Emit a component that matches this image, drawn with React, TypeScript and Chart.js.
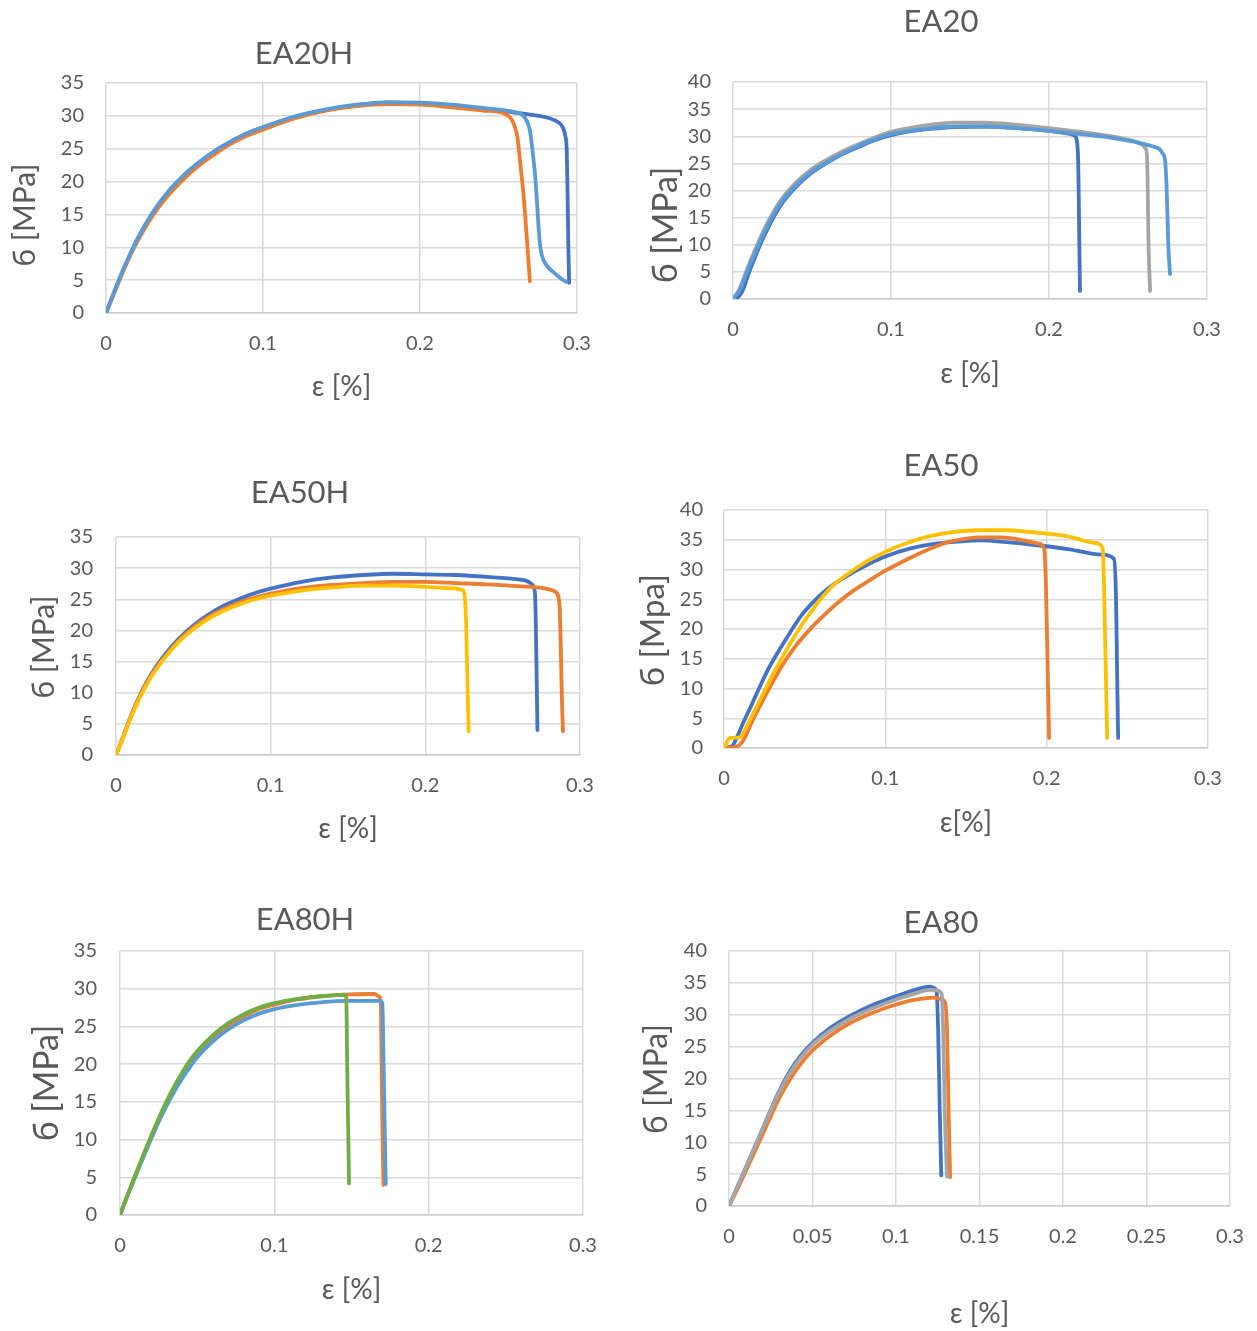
import React, { useEffect, useRef } from "react";
import { Chart, registerables } from "chart.js";

Chart.register(...registerables);

const FONT = "Lato, 'DejaVu Sans', 'Noto Sans', sans-serif";
Chart.defaults.font.family = FONT;

// ---------------- tick values ----------------
const xTicksTenth = [0, 0.1, 0.2, 0.3];
const xTicksTwentieth = [0, 0.05, 0.1, 0.15, 0.2, 0.25, 0.3];
const yTicks35 = [0, 5, 10, 15, 20, 25, 30, 35];
const yTicks40 = [0, 5, 10, 15, 20, 25, 30, 35, 40];

// ---------------- EA20H ----------------
const ea20hBlueStrain = [0, 0.005, 0.01, 0.015, 0.02, 0.03, 0.04, 0.05, 0.06, 0.07, 0.08, 0.09, 0.1, 0.12, 0.14, 0.16, 0.18, 0.2, 0.22, 0.24, 0.26, 0.27, 0.28, 0.286, 0.29, 0.2925, 0.2935, 0.294, 0.2945, 0.295];
const ea20hBlueStress = [0, 3.0, 6.0, 8.7, 11.2, 15.3, 18.5, 21.0, 23.0, 24.7, 26.1, 27.3, 28.2, 29.8, 30.9, 31.6, 32.0, 31.9, 31.6, 31.1, 30.5, 30.2, 29.8, 29.3, 28.6, 27.0, 24.5, 18.0, 10.0, 4.6];
const ea20hOrangeStrain = [0, 0.005, 0.01, 0.015, 0.02, 0.03, 0.04, 0.05, 0.06, 0.07, 0.08, 0.09, 0.1, 0.12, 0.14, 0.16, 0.18, 0.2, 0.22, 0.24, 0.25, 0.255, 0.258, 0.26, 0.262, 0.264, 0.266, 0.268, 0.27];
const ea20hOrangeStress = [0, 2.9, 5.8, 8.5, 10.9, 14.9, 18.0, 20.5, 22.6, 24.3, 25.8, 27.0, 27.9, 29.6, 30.8, 31.5, 31.8, 31.7, 31.3, 30.8, 30.6, 30.2, 29.6, 28.6, 26.8, 22.5, 17.8, 11.5, 4.8];
const ea20hLightStrain = [0, 0.005, 0.01, 0.015, 0.02, 0.03, 0.04, 0.05, 0.06, 0.07, 0.08, 0.09, 0.1, 0.12, 0.14, 0.16, 0.18, 0.2, 0.22, 0.24, 0.26, 0.265, 0.268, 0.27, 0.272, 0.2737, 0.275, 0.276, 0.277, 0.2786, 0.2822, 0.286, 0.2895, 0.2935];
const ea20hLightStress = [0, 3.1, 6.1, 8.8, 11.3, 15.4, 18.6, 21.1, 23.1, 24.8, 26.2, 27.4, 28.3, 29.9, 31.0, 31.7, 32.1, 32.0, 31.7, 31.2, 30.6, 30.2, 29.2, 27.8, 24.0, 19.8, 15.0, 11.5, 9.5, 8.1, 6.8, 6.0, 5.3, 4.7];

// ---------------- EA20 ----------------
const ea20BlueStrain = [0, 0.003, 0.006, 0.01, 0.02, 0.03, 0.04, 0.05, 0.06, 0.07, 0.08, 0.09, 0.1, 0.12, 0.14, 0.16, 0.18, 0.2, 0.21, 0.2158, 0.2175, 0.2185, 0.219, 0.2196];
const ea20BlueStress = [0, 0.3, 1.5, 4.8, 11.8, 17.2, 20.7, 23.3, 25.2, 26.8, 28.1, 29.3, 30.2, 31.2, 31.7, 31.8, 31.5, 31.0, 30.6, 30.2, 29.3, 25.0, 15.0, 1.5];
const ea20GrayStrain = [0, 0.004, 0.01, 0.02, 0.03, 0.04, 0.05, 0.06, 0.07, 0.08, 0.09, 0.1, 0.12, 0.14, 0.16, 0.18, 0.2, 0.22, 0.24, 0.25, 0.255, 0.258, 0.261, 0.262, 0.2625, 0.263, 0.264];
const ea20GrayStress = [0, 1.8, 6.3, 13.0, 18.1, 21.5, 24.0, 25.8, 27.3, 28.6, 29.8, 30.8, 31.9, 32.5, 32.5, 32.1, 31.5, 30.8, 30.0, 29.4, 29.0, 28.6, 27.8, 26.5, 20.0, 10.0, 1.5];
const ea20LightStrain = [0, 0.004, 0.01, 0.02, 0.03, 0.04, 0.05, 0.06, 0.07, 0.08, 0.09, 0.1, 0.12, 0.14, 0.16, 0.18, 0.2, 0.22, 0.24, 0.25, 0.26, 0.266, 0.27, 0.272, 0.2735, 0.2745, 0.2755, 0.2766];
const ea20LightStress = [0, 1.5, 5.8, 12.4, 17.6, 21.0, 23.5, 25.3, 26.9, 28.3, 29.5, 30.4, 31.3, 31.8, 31.8, 31.5, 31.0, 30.4, 29.7, 29.2, 28.6, 28.1, 27.6, 26.8, 25.5, 20.0, 10.0, 4.6];

// ---------------- EA50H ----------------
const ea50hBlueStrain = [0, 0.005, 0.01, 0.02, 0.03, 0.04, 0.05, 0.06, 0.07, 0.08, 0.09, 0.1, 0.12, 0.14, 0.16, 0.18, 0.2, 0.22, 0.24, 0.26, 0.265, 0.268, 0.27, 0.271, 0.2715, 0.272, 0.2725];
const ea50hBlueStress = [0, 3.2, 6.5, 11.8, 15.6, 18.5, 20.8, 22.6, 24.0, 25.1, 26.0, 26.7, 27.8, 28.5, 28.9, 29.1, 29.0, 28.9, 28.6, 28.2, 28.0, 27.6, 27.0, 25.5, 20.0, 12.0, 4.0];
const ea50hOrangeStrain = [0, 0.005, 0.01, 0.02, 0.03, 0.04, 0.05, 0.06, 0.07, 0.08, 0.09, 0.1, 0.12, 0.14, 0.16, 0.18, 0.2, 0.22, 0.24, 0.26, 0.28, 0.284, 0.286, 0.287, 0.2877, 0.2883, 0.289];
const ea50hOrangeStress = [0, 3.1, 6.4, 11.6, 15.3, 18.2, 20.5, 22.2, 23.5, 24.5, 25.3, 25.9, 26.8, 27.3, 27.6, 27.8, 27.8, 27.6, 27.4, 27.1, 26.6, 26.2, 25.4, 23.0, 16.0, 9.0, 3.8];
const ea50hYellowStrain = [0, 0.005, 0.01, 0.02, 0.03, 0.04, 0.05, 0.06, 0.07, 0.08, 0.09, 0.1, 0.12, 0.14, 0.16, 0.18, 0.2, 0.215, 0.224, 0.2255, 0.2265, 0.2272, 0.228];
const ea50hYellowStress = [0, 3.0, 6.3, 11.4, 15.1, 18.0, 20.2, 21.9, 23.2, 24.2, 25.0, 25.6, 26.4, 26.9, 27.2, 27.2, 27.0, 26.8, 26.5, 25.5, 20.0, 12.0, 3.8];

// ---------------- EA50 ----------------
const ea50BlueStrain = [0, 0.005, 0.008, 0.012, 0.016, 0.02, 0.0283, 0.035, 0.0407, 0.048, 0.0556, 0.0605, 0.068, 0.08, 0.0903, 0.1, 0.115, 0.13, 0.145, 0.16, 0.175, 0.19, 0.214, 0.234, 0.2417, 0.243, 0.2437, 0.2443];
const ea50BlueStress = [0, 0.3, 1.8, 4.3, 6.6, 9.0, 13.7, 16.8, 19.3, 22.3, 24.6, 25.9, 27.5, 29.5, 31.0, 32.2, 33.5, 34.3, 34.7, 34.9, 34.6, 34.2, 33.4, 32.5, 31.8, 25.0, 12.0, 1.7];
const ea50YellowStrain = [0, 0.0037, 0.0099, 0.0125, 0.0161, 0.0233, 0.03, 0.0357, 0.042, 0.048, 0.054, 0.0605, 0.068, 0.078, 0.09, 0.1002, 0.113, 0.1275, 0.142, 0.1573, 0.175, 0.1896, 0.2144, 0.229, 0.2347, 0.2355, 0.2365, 0.2375];
const ea50YellowStress = [0, 1.7, 1.8, 2.8, 4.7, 8.6, 12.2, 15.0, 18.0, 20.6, 22.9, 25.2, 27.4, 29.5, 31.6, 33.0, 34.4, 35.6, 36.3, 36.6, 36.6, 36.3, 35.5, 34.5, 33.6, 28.0, 15.0, 1.7];
const ea50OrangeStrain = [0, 0.004, 0.0084, 0.0122, 0.0175, 0.0233, 0.03, 0.0357, 0.044, 0.0531, 0.062, 0.0705, 0.08, 0.0903, 0.1, 0.115, 0.127, 0.1402, 0.15, 0.16, 0.17, 0.1797, 0.1945, 0.1983, 0.1995, 0.2005, 0.2015];
const ea50OrangeStress = [0, 0.1, 0.3, 1.4, 4.5, 7.6, 11.0, 13.7, 17.0, 19.9, 22.3, 24.4, 26.4, 28.2, 29.8, 31.9, 33.4, 34.7, 35.2, 35.4, 35.4, 35.2, 34.4, 33.6, 28.0, 15.0, 1.7];

// ---------------- EA80H ----------------
const ea80hGreenStrain = [0, 0.005, 0.01, 0.015, 0.02, 0.025, 0.03, 0.035, 0.04, 0.045, 0.05, 0.06, 0.07, 0.08, 0.09, 0.1, 0.11, 0.12, 0.13, 0.14, 0.1454, 0.1466, 0.1472, 0.1478, 0.1484];
const ea80hGreenStress = [0, 2.7, 5.3, 7.9, 10.4, 12.8, 15.0, 17.0, 18.8, 20.4, 21.7, 23.8, 25.4, 26.6, 27.5, 28.1, 28.5, 28.8, 29.0, 29.15, 29.2, 28.8, 20.0, 12.0, 4.2];
const ea80hOrangeStrain = [0, 0.005, 0.01, 0.015, 0.02, 0.025, 0.03, 0.035, 0.04, 0.045, 0.05, 0.06, 0.07, 0.08, 0.09, 0.1, 0.11, 0.12, 0.13, 0.14, 0.15, 0.16, 0.165, 0.1675, 0.169, 0.1695, 0.17, 0.1707];
const ea80hOrangeStress = [0, 2.7, 5.3, 7.8, 10.3, 12.6, 14.8, 16.8, 18.5, 20.1, 21.4, 23.5, 25.1, 26.3, 27.3, 27.9, 28.4, 28.7, 29.0, 29.15, 29.25, 29.3, 29.3, 29.0, 28.4, 20.0, 12.0, 4.0];
const ea80hLightStrain = [0, 0.005, 0.01, 0.015, 0.02, 0.025, 0.03, 0.035, 0.04, 0.045, 0.05, 0.06, 0.07, 0.08, 0.09, 0.1, 0.11, 0.12, 0.13, 0.14, 0.15, 0.16, 0.1677, 0.17, 0.1708, 0.1715, 0.1722];
const ea80hLightStress = [0, 2.6, 5.1, 7.6, 10.0, 12.3, 14.4, 16.3, 18.0, 19.5, 20.9, 23.0, 24.6, 25.8, 26.7, 27.3, 27.7, 28.0, 28.2, 28.35, 28.4, 28.4, 28.4, 28.1, 20.0, 12.0, 4.1];

// ---------------- EA80 ----------------
const ea80BlueStrain = [0, 0.006, 0.0127, 0.019, 0.0247, 0.03, 0.0366, 0.043, 0.05, 0.06, 0.0725, 0.085, 0.1, 0.11, 0.1168, 0.1205, 0.1228, 0.1243, 0.1252, 0.1262, 0.1271];
const ea80BlueStress = [0, 3.6, 7.6, 11.4, 14.9, 18.0, 21.2, 23.6, 25.6, 27.8, 29.8, 31.4, 32.9, 33.8, 34.3, 34.4, 34.2, 33.6, 28.0, 15.0, 4.8];
const ea80GrayStrain = [0, 0.006, 0.0127, 0.019, 0.0247, 0.03, 0.0366, 0.043, 0.05, 0.06, 0.0725, 0.085, 0.1, 0.11, 0.12, 0.125, 0.1273, 0.1282, 0.1292, 0.1305];
const ea80GrayStress = [0, 3.6, 7.6, 11.4, 14.8, 17.8, 20.9, 23.3, 25.3, 27.4, 29.4, 30.9, 32.4, 33.2, 33.9, 33.8, 33.3, 28.0, 15.0, 4.6];
const ea80OrangeStrain = [0, 0.006, 0.0127, 0.019, 0.0247, 0.03, 0.0366, 0.043, 0.05, 0.06, 0.0725, 0.085, 0.1, 0.11, 0.1228, 0.1264, 0.1293, 0.1305, 0.1315, 0.1324];
const ea80OrangeStress = [0, 3.2, 7.0, 10.6, 13.9, 16.9, 19.9, 22.3, 24.4, 26.6, 28.7, 30.2, 31.6, 32.3, 32.7, 32.5, 32.0, 28.0, 15.0, 4.5];

// ---------------- styles ----------------
const COL = {
  blue: "#4472C4",
  orange: "#ED7D31",
  gray: "#A5A5A5",
  yellow: "#FFC000",
  lightBlue: "#5B9BD5",
  green: "#70AD47",
};
const TEXT = "#595959";
const GRID = "#D9D9D9";
const TITLE_SIZE = 31;
const TICK_SIZE = 20;
const XTITLE_SIZE = 28;

type Curve = { strain: number[]; stress: number[]; color: string };
type PanelSpec = {
  title: string;
  xTitle: string;
  yTitle: string;
  yMax: number;
  yTicks: number[];
  xTicks: number[];
  curves: Curve[];
  box: { left: number; top: number; width: number; height: number };
  padL: number;
  padR: number;
  yAxisWidth: number;
  xAxisHeight: number;
  titlePadTop: number;
  titlePadBottom: number;
  xTitlePadBottom: number;
  yTitleX: number;
  yTitleY: number;
  yTitleSize: number;
  yTickPad: number;
};

const panels: PanelSpec[] = [
  {
    title: "EA20H", xTitle: "ε [%]", yTitle: "б [MPa]", yMax: 35, yTicks: yTicks35, xTicks: xTicksTenth,
    curves: [
      { strain: ea20hLightStrain, stress: ea20hLightStress, color: COL.lightBlue },
      { strain: ea20hOrangeStrain, stress: ea20hOrangeStress, color: COL.orange },
      { strain: ea20hBlueStrain, stress: ea20hBlueStress, color: COL.blue },
    ],
    box: { left: 0, top: 0, width: 628, height: 420 },
    padL: 31, padR: 51, yAxisWidth: 75, xAxisHeight: 107,
    titlePadTop: 35.4, titlePadBottom: 10.4, xTitlePadBottom: 16.2,
    yTitleX: 25, yTitleY: 215, yTitleSize: 30, yTickPad: 22,
  },
  {
    title: "EA20", xTitle: "ε [%]", yTitle: "б [MPa]", yMax: 40, yTicks: yTicks40, xTicks: xTicksTenth,
    curves: [
      { strain: ea20LightStrain, stress: ea20LightStress, color: COL.lightBlue },
      { strain: ea20GrayStrain, stress: ea20GrayStress, color: COL.gray },
      { strain: ea20BlueStrain, stress: ea20BlueStress, color: COL.blue },
    ],
    box: { left: 628, top: 0, width: 629, height: 420 },
    padL: 47, padR: 50, yAxisWidth: 58, xAxisHeight: 121,
    titlePadTop: 3.4, titlePadBottom: 41.4, xTitlePadBottom: 29.2,
    yTitleX: 666, yTitleY: 225, yTitleSize: 34, yTickPad: 22,
  },
  {
    title: "EA50H", xTitle: "ε [%]", yTitle: "б [MPa]", yMax: 35, yTicks: yTicks35, xTicks: xTicksTenth,
    curves: [
      { strain: ea50hYellowStrain, stress: ea50hYellowStress, color: COL.yellow },
      { strain: ea50hOrangeStrain, stress: ea50hOrangeStress, color: COL.orange },
      { strain: ea50hBlueStrain, stress: ea50hBlueStress, color: COL.blue },
    ],
    box: { left: 0, top: 430, width: 628, height: 430 },
    padL: 20, padR: 48, yAxisWidth: 96, xAxisHeight: 105,
    titlePadTop: 43.9, titlePadBottom: 25.9, xTitlePadBottom: 14.2,
    yTitleX: 44, yTitleY: 647, yTitleSize: 30, yTickPad: 23,
  },
  {
    title: "EA50", xTitle: "ε[%]", yTitle: "б [Mpa]", yMax: 40, yTicks: yTicks40, xTicks: xTicksTenth,
    curves: [
      { strain: ea50YellowStrain, stress: ea50YellowStress, color: COL.yellow },
      { strain: ea50OrangeStrain, stress: ea50OrangeStress, color: COL.orange },
      { strain: ea50BlueStrain, stress: ea50BlueStress, color: COL.blue },
    ],
    box: { left: 628, top: 430, width: 629, height: 430 },
    padL: 46, padR: 49, yAxisWidth: 50, xAxisHeight: 112,
    titlePadTop: 17.4, titlePadBottom: 25.4, xTitlePadBottom: 20.2,
    yTitleX: 653, yTitleY: 630, yTitleSize: 33, yTickPad: 21,
  },
  {
    title: "EA80H", xTitle: "ε [%]", yTitle: "б [MPa]", yMax: 35, yTicks: yTicks35, xTicks: xTicksTenth,
    curves: [
      { strain: ea80hGreenStrain, stress: ea80hGreenStress, color: COL.green },
      { strain: ea80hLightStrain, stress: ea80hLightStress, color: COL.lightBlue },
      { strain: ea80hOrangeStrain, stress: ea80hOrangeStress, color: COL.orange },
    ],
    box: { left: 0, top: 860, width: 628, height: 471 },
    padL: 27, padR: 45, yAxisWidth: 93, xAxisHeight: 116,
    titlePadTop: 41.4, titlePadBottom: 12.4, xTitlePadBottom: 24.2,
    yTitleX: 47, yTitleY: 1083, yTitleSize: 34, yTickPad: 23,
  },
  {
    title: "EA80", xTitle: "ε [%]", yTitle: "б [MPa]", yMax: 40, yTicks: yTicks40, xTicks: xTicksTwentieth,
    curves: [
      { strain: ea80GrayStrain, stress: ea80GrayStress, color: COL.gray },
      { strain: ea80OrangeStrain, stress: ea80OrangeStress, color: COL.orange },
      { strain: ea80BlueStrain, stress: ea80BlueStress, color: COL.blue },
    ],
    box: { left: 628, top: 860, width: 629, height: 471 },
    padL: 24, padR: 27, yAxisWidth: 77, xAxisHeight: 125,
    titlePadTop: 44.4, titlePadBottom: 9.4, xTitlePadBottom: 0,
    yTitleX: 657, yTitleY: 1079, yTitleSize: 32, yTickPad: 22,
  },
];

const fmt = (v: any) => String(+Number(v).toFixed(3));

const yTitlePlugin = {
  id: "yTitle",
  afterDraw(chart: any, _args: any, opts: any) {
    const ctx = chart.ctx as CanvasRenderingContext2D;
    ctx.save();
    ctx.translate(opts.x, opts.y);
    ctx.rotate(-Math.PI / 2);
    ctx.font = `${opts.size}px ${FONT}`;
    ctx.fillStyle = TEXT;
    ctx.textAlign = "center";
    ctx.textBaseline = "middle";
    ctx.fillText(opts.text, 0, 0);
    ctx.restore();
  },
};

function PanelChart({ p }: { p: PanelSpec }) {
  const ref = useRef<HTMLCanvasElement | null>(null);
  useEffect(() => {
    if (!ref.current) return;
    const chart = new Chart(ref.current, {
      type: "scatter",
      data: {
        datasets: p.curves.map((c) => ({
          data: c.strain.map((x, i) => ({ x, y: c.stress[i] })),
          showLine: true,
          borderColor: c.color,
          backgroundColor: c.color,
          borderWidth: 3.8,
          pointRadius: 0,
          pointHoverRadius: 0,
          cubicInterpolationMode: "monotone",
          borderCapStyle: "round",
          borderJoinStyle: "round",
        })),
      },
      options: {
        responsive: false,
        animation: false,
        devicePixelRatio: 1,
        events: [],
        layout: { padding: { left: p.padL, right: p.padR, top: 0, bottom: 0 } },
        plugins: {
          legend: { display: false },
          tooltip: { enabled: false },
          title: {
            display: true,
            text: p.title,
            color: TEXT,
            font: { size: TITLE_SIZE, weight: "normal" },
            padding: { top: p.titlePadTop, bottom: p.titlePadBottom },
          },
          yTitle: {
            x: p.yTitleX - p.box.left,
            y: p.yTitleY - p.box.top,
            size: p.yTitleSize,
            text: p.yTitle,
          },
        } as any,
        scales: {
          x: {
            type: "linear",
            min: 0,
            max: p.xTicks[p.xTicks.length - 1],
            afterBuildTicks: (s: any) => {
              s.ticks = p.xTicks.map((v) => ({ value: v }));
            },
            afterFit: (s: any) => {
              s.height = p.xAxisHeight;
              s.paddingLeft = 0;
              s.paddingRight = 0;
              s.paddingTop = 0;
              s.paddingBottom = 0;
            },
            grid: { color: GRID, lineWidth: 1.5, drawTicks: false },
            border: { display: true, color: "#CCCCCC", width: 1.5 },
            ticks: {
              padding: 19,
              color: TEXT,
              font: { size: TICK_SIZE },
              autoSkip: false,
              maxRotation: 0,
              callback: fmt,
            },
            title: {
              display: true,
              text: p.xTitle,
              color: TEXT,
              font: { size: XTITLE_SIZE },
              padding: { top: 0, bottom: p.xTitlePadBottom },
            },
          },
          y: {
            type: "linear",
            min: 0,
            max: p.yMax,
            afterBuildTicks: (s: any) => {
              s.ticks = p.yTicks.map((v) => ({ value: v }));
            },
            afterFit: (s: any) => {
              s.width = p.yAxisWidth;
              s.paddingLeft = 0;
              s.paddingRight = 0;
              s.paddingTop = 0;
              s.paddingBottom = 0;
            },
            grid: { color: GRID, lineWidth: 1.5, drawTicks: false },
            border: { display: false },
            ticks: {
              padding: p.yTickPad,
              color: TEXT,
              font: { size: TICK_SIZE },
              autoSkip: false,
              callback: fmt,
            },
          },
        },
      },
      plugins: [yTitlePlugin],
    } as any);
    return () => chart.destroy();
  }, [p]);
  return (
    <canvas
      ref={ref}
      width={p.box.width}
      height={p.box.height}
      style={{
        position: "absolute",
        left: p.box.left,
        top: p.box.top,
        width: p.box.width,
        height: p.box.height,
      }}
    />
  );
}

export default function App() {
  return (
    <div
      style={{
        position: "absolute",
        left: 0,
        top: 0,
        width: 1257,
        height: 1331,
        background: "#ffffff",
        overflow: "hidden",
      }}
    >
      {panels.map((p) => (
        <PanelChart key={p.title} p={p} />
      ))}
    </div>
  );
}
